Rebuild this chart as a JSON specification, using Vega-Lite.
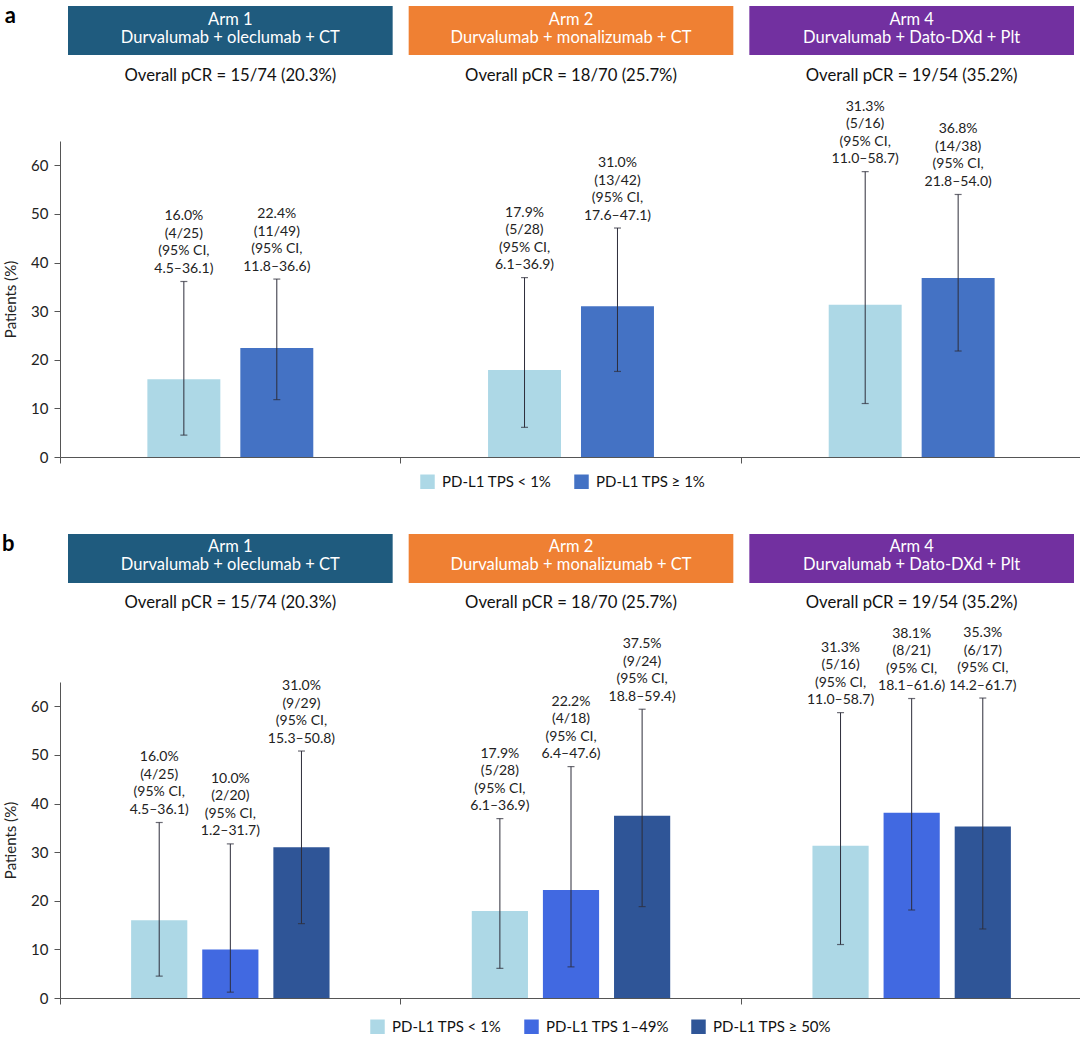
{
  "$schema": "https://vega.github.io/schema/vega-lite/v6.json",
  "padding": {"left": 2, "top": 5, "right": 0, "bottom": 0},
  "bounds": "flush",
  "spacing": 77,
  "config": {
    "font": "Lato",
    "view": {"stroke": null},
    "axis": {"labelFont": "Lato", "titleFont": "Lato"},
    "legend": {"labelFont": "Lato"}
  },
  "resolve": {"scale": {"x": "independent", "y": "independent", "color": "independent", "xOffset": "independent"}},
  "vconcat": [
    {
      "width": 1022,
      "height": 58,
      "title": {"text": "a", "orient": "left", "angle": 0, "anchor": "end", "align": "right", "baseline": "top", "offset": 33, "fontSize": 22, "fontWeight": "bold", "color": "#000"},
      "data": {"values": [
        {"arm": "Arm 1", "regimen": "Durvalumab + oleclumab + CT"},
        {"arm": "Arm 2", "regimen": "Durvalumab + monalizumab + CT"},
        {"arm": "Arm 4", "regimen": "Durvalumab + Dato-DXd + Plt"}
      ]},
      "layer": [
        {
          "mark": {"type": "rect"},
          "encoding": {
            "x": {"field": "arm", "type": "nominal", "sort": null, "scale": {"paddingInner": 0.047, "paddingOuter": 0.0235}, "axis": null},
            "y": {"datum": "box", "type": "nominal", "scale": {"paddingInner": 0, "paddingOuter": 0.0918, "align": 0}, "axis": null},
            "color": {"field": "arm", "type": "nominal", "scale": {"domain": ["Arm 1", "Arm 2", "Arm 4"], "range": ["#1F5B7E", "#EF8033", "#7230A0"]}, "legend": null}
          }
        },
        {
          "mark": {"type": "text", "color": "#ffffff", "fontSize": 16.5, "baseline": "middle", "dy": -11},
          "encoding": {
            "x": {"field": "arm", "type": "nominal", "sort": null, "axis": null},
            "y": {"datum": "box", "type": "nominal", "axis": null},
            "text": {"field": "arm"}
          }
        },
        {
          "mark": {"type": "text", "color": "#ffffff", "fontSize": 16.5, "baseline": "middle", "dy": 7},
          "encoding": {
            "x": {"field": "arm", "type": "nominal", "sort": null, "axis": null},
            "y": {"datum": "box", "type": "nominal", "axis": null},
            "text": {"field": "regimen"}
          }
        }
      ]
    },
    {
      "width": 1022,
      "height": 316,
      "data": {"values": [
        {"pcr": "Overall pCR = 15/74 (20.3%)", "grp": "PD-L1 TPS < 1%", "pct": 16.0, "lo": 4.5, "hi": 36.1, "lbl": "16.0%\n(4/25)\n(95% CI,\n4.5–36.1)"},
        {"pcr": "Overall pCR = 15/74 (20.3%)", "grp": "PD-L1 TPS ≥ 1%", "pct": 22.4, "lo": 11.8, "hi": 36.6, "lbl": "22.4%\n(11/49)\n(95% CI,\n11.8–36.6)"},
        {"pcr": "Overall pCR = 18/70 (25.7%)", "grp": "PD-L1 TPS < 1%", "pct": 17.9, "lo": 6.1, "hi": 36.9, "lbl": "17.9%\n(5/28)\n(95% CI,\n6.1–36.9)"},
        {"pcr": "Overall pCR = 18/70 (25.7%)", "grp": "PD-L1 TPS ≥ 1%", "pct": 31.0, "lo": 17.6, "hi": 47.1, "lbl": "31.0%\n(13/42)\n(95% CI,\n17.6–47.1)"},
        {"pcr": "Overall pCR = 19/54 (35.2%)", "grp": "PD-L1 TPS < 1%", "pct": 31.3, "lo": 11.0, "hi": 58.7, "lbl": "31.3%\n(5/16)\n(95% CI,\n11.0–58.7)"},
        {"pcr": "Overall pCR = 19/54 (35.2%)", "grp": "PD-L1 TPS ≥ 1%", "pct": 36.8, "lo": 21.8, "hi": 54.0, "lbl": "36.8%\n(14/38)\n(95% CI,\n21.8–54.0)"}
      ]},
      "encoding": {
        "xOffset": {"field": "grp", "type": "nominal", "sort": null, "scale": {"paddingInner": 0.215, "paddingOuter": 0.94}}
      },
      "layer": [
        {
          "mark": {"type": "bar"},
          "encoding": {
            "x": {"field": "pcr", "type": "nominal", "sort": null, "scale": {"paddingInner": 0, "paddingOuter": 0},
                  "axis": {"orient": "bottom", "title": null, "labels": false, "tickSize": 6, "bandPosition": 0, "domainColor": "#555", "tickColor": "#555"}},
            "y": {"field": "pct", "type": "quantitative", "title": "Patients (%)", "scale": {"domain": [0, 65], "nice": false},
                  "axis": {"values": [0, 10, 20, 30, 40, 50, 60], "grid": false, "tickSize": 6, "labelFontSize": 15, "labelPadding": 6, "labelColor": "#222", "titleFontSize": 15, "titleFontWeight": "normal", "titleColor": "#222", "titlePadding": 12, "domainColor": "#555", "tickColor": "#555"}},
            "color": {"field": "grp", "type": "nominal", "sort": null,
                      "scale": {"domain": ["PD-L1 TPS < 1%", "PD-L1 TPS ≥ 1%"], "range": ["#ADD8E6", "#4472C4"]},
                      "legend": {"orient": "none", "legendX": 360, "legendY": 333, "direction": "horizontal", "title": null, "symbolType": "square", "symbolSize": 210, "symbolStrokeWidth": 0, "labelFontSize": 15, "labelColor": "#111", "labelOffset": 7, "columnPadding": 22, "labelLimit": 300}}
          }
        },
        {
          "mark": {"type": "rule", "color": "#2d2d3a", "strokeWidth": 1},
          "encoding": {
            "x": {"field": "pcr", "type": "nominal", "sort": null, "axis": null},
            "y": {"field": "lo", "type": "quantitative", "title": "Patients (%)", "scale": {"domain": [0, 65], "nice": false}},
            "y2": {"field": "hi"}
          }
        },
        {
          "mark": {"type": "tick", "color": "#2d2d3a", "size": 7, "thickness": 1.2},
          "encoding": {
            "x": {"field": "pcr", "type": "nominal", "sort": null, "axis": null},
            "y": {"field": "lo", "type": "quantitative", "title": "Patients (%)", "scale": {"domain": [0, 65], "nice": false}}
          }
        },
        {
          "mark": {"type": "tick", "color": "#2d2d3a", "size": 7, "thickness": 1.2},
          "encoding": {
            "x": {"field": "pcr", "type": "nominal", "sort": null, "axis": null},
            "y": {"field": "hi", "type": "quantitative", "title": "Patients (%)", "scale": {"domain": [0, 65], "nice": false}}
          }
        },
        {
          "mark": {"type": "text", "baseline": "middle", "dy": -65, "lineBreak": "\n", "fontSize": 14, "lineHeight": 17.5, "color": "#222"},
          "encoding": {
            "x": {"field": "pcr", "type": "nominal", "sort": null,
                  "axis": {"orient": "top", "title": null, "domain": false, "ticks": false, "tickSize": 0, "labelPadding": 57, "labelFontSize": 16.7, "labelColor": "#111", "labelAngle": 0, "labelLimit": 400}},
            "y": {"field": "hi", "type": "quantitative", "title": "Patients (%)", "scale": {"domain": [0, 65], "nice": false}},
            "text": {"field": "lbl"}
          }
        }
      ],
      "resolve": {"axis": {"x": "independent"}}
    },
    {
      "width": 1022,
      "height": 71,
      "title": {"text": "b", "orient": "left", "angle": 0, "anchor": "end", "align": "right", "baseline": "top", "offset": 33, "fontSize": 22, "fontWeight": "bold", "color": "#000"},
      "data": {"values": [
        {"arm": "Arm 1", "regimen": "Durvalumab + oleclumab + CT"},
        {"arm": "Arm 2", "regimen": "Durvalumab + monalizumab + CT"},
        {"arm": "Arm 4", "regimen": "Durvalumab + Dato-DXd + Plt"}
      ]},
      "layer": [
        {
          "mark": {"type": "rect"},
          "encoding": {
            "x": {"field": "arm", "type": "nominal", "sort": null, "scale": {"paddingInner": 0.047, "paddingOuter": 0.0235}, "axis": null},
            "y": {"datum": "box", "type": "nominal", "scale": {"paddingInner": 0, "paddingOuter": 0.2245, "align": 0}, "axis": null},
            "color": {"field": "arm", "type": "nominal", "scale": {"domain": ["Arm 1", "Arm 2", "Arm 4"], "range": ["#1F5B7E", "#EF8033", "#7230A0"]}, "legend": null}
          }
        },
        {
          "mark": {"type": "text", "color": "#ffffff", "fontSize": 16.5, "baseline": "middle", "dy": -11},
          "encoding": {
            "x": {"field": "arm", "type": "nominal", "sort": null, "axis": null},
            "y": {"datum": "box", "type": "nominal", "axis": null},
            "text": {"field": "arm"}
          }
        },
        {
          "mark": {"type": "text", "color": "#ffffff", "fontSize": 16.5, "baseline": "middle", "dy": 7},
          "encoding": {
            "x": {"field": "arm", "type": "nominal", "sort": null, "axis": null},
            "y": {"datum": "box", "type": "nominal", "axis": null},
            "text": {"field": "regimen"}
          }
        }
      ]
    },
    {
      "width": 1022,
      "height": 316,
      "data": {"values": [
        {"pcr": "Overall pCR = 15/74 (20.3%)", "grp": "PD-L1 TPS < 1%", "pct": 16.0, "lo": 4.5, "hi": 36.1, "lbl": "16.0%\n(4/25)\n(95% CI,\n4.5–36.1)"},
        {"pcr": "Overall pCR = 15/74 (20.3%)", "grp": "PD-L1 TPS 1–49%", "pct": 10.0, "lo": 1.2, "hi": 31.7, "lbl": "10.0%\n(2/20)\n(95% CI,\n1.2–31.7)"},
        {"pcr": "Overall pCR = 15/74 (20.3%)", "grp": "PD-L1 TPS ≥ 50%", "pct": 31.0, "lo": 15.3, "hi": 50.8, "lbl": "31.0%\n(9/29)\n(95% CI,\n15.3–50.8)"},
        {"pcr": "Overall pCR = 18/70 (25.7%)", "grp": "PD-L1 TPS < 1%", "pct": 17.9, "lo": 6.1, "hi": 36.9, "lbl": "17.9%\n(5/28)\n(95% CI,\n6.1–36.9)"},
        {"pcr": "Overall pCR = 18/70 (25.7%)", "grp": "PD-L1 TPS 1–49%", "pct": 22.2, "lo": 6.4, "hi": 47.6, "lbl": "22.2%\n(4/18)\n(95% CI,\n6.4–47.6)"},
        {"pcr": "Overall pCR = 18/70 (25.7%)", "grp": "PD-L1 TPS ≥ 50%", "pct": 37.5, "lo": 18.8, "hi": 59.4, "lbl": "37.5%\n(9/24)\n(95% CI,\n18.8–59.4)"},
        {"pcr": "Overall pCR = 19/54 (35.2%)", "grp": "PD-L1 TPS < 1%", "pct": 31.3, "lo": 11.0, "hi": 58.7, "lbl": "31.3%\n(5/16)\n(95% CI,\n11.0–58.7)"},
        {"pcr": "Overall pCR = 19/54 (35.2%)", "grp": "PD-L1 TPS 1–49%", "pct": 38.1, "lo": 18.1, "hi": 61.6, "lbl": "38.1%\n(8/21)\n(95% CI,\n18.1–61.6)"},
        {"pcr": "Overall pCR = 19/54 (35.2%)", "grp": "PD-L1 TPS ≥ 50%", "pct": 35.3, "lo": 14.2, "hi": 61.7, "lbl": "35.3%\n(6/17)\n(95% CI,\n14.2–61.7)"}
      ]},
      "encoding": {
        "xOffset": {"field": "grp", "type": "nominal", "sort": null, "scale": {"paddingInner": 0.21, "paddingOuter": 1.085}}
      },
      "layer": [
        {
          "mark": {"type": "bar"},
          "encoding": {
            "x": {"field": "pcr", "type": "nominal", "sort": null, "scale": {"paddingInner": 0, "paddingOuter": 0},
                  "axis": {"orient": "bottom", "title": null, "labels": false, "tickSize": 6, "bandPosition": 0, "domainColor": "#555", "tickColor": "#555"}},
            "y": {"field": "pct", "type": "quantitative", "title": "Patients (%)", "scale": {"domain": [0, 65], "nice": false},
                  "axis": {"values": [0, 10, 20, 30, 40, 50, 60], "grid": false, "tickSize": 6, "labelFontSize": 15, "labelPadding": 6, "labelColor": "#222", "titleFontSize": 15, "titleFontWeight": "normal", "titleColor": "#222", "titlePadding": 12, "domainColor": "#555", "tickColor": "#555"}},
            "color": {"field": "grp", "type": "nominal", "sort": null,
                      "scale": {"domain": ["PD-L1 TPS < 1%", "PD-L1 TPS 1–49%", "PD-L1 TPS ≥ 50%"], "range": ["#ADD8E6", "#4169E1", "#2F5597"]},
                      "legend": {"orient": "none", "legendX": 310, "legendY": 337, "direction": "horizontal", "title": null, "symbolType": "square", "symbolSize": 210, "symbolStrokeWidth": 0, "labelFontSize": 15, "labelColor": "#111", "labelOffset": 7, "columnPadding": 22, "labelLimit": 300}}
          }
        },
        {
          "mark": {"type": "rule", "color": "#2d2d3a", "strokeWidth": 1},
          "encoding": {
            "x": {"field": "pcr", "type": "nominal", "sort": null, "axis": null},
            "y": {"field": "lo", "type": "quantitative", "title": "Patients (%)", "scale": {"domain": [0, 65], "nice": false}},
            "y2": {"field": "hi"}
          }
        },
        {
          "mark": {"type": "tick", "color": "#2d2d3a", "size": 7, "thickness": 1.2},
          "encoding": {
            "x": {"field": "pcr", "type": "nominal", "sort": null, "axis": null},
            "y": {"field": "lo", "type": "quantitative", "title": "Patients (%)", "scale": {"domain": [0, 65], "nice": false}}
          }
        },
        {
          "mark": {"type": "tick", "color": "#2d2d3a", "size": 7, "thickness": 1.2},
          "encoding": {
            "x": {"field": "pcr", "type": "nominal", "sort": null, "axis": null},
            "y": {"field": "hi", "type": "quantitative", "title": "Patients (%)", "scale": {"domain": [0, 65], "nice": false}}
          }
        },
        {
          "mark": {"type": "text", "baseline": "middle", "dy": -65, "lineBreak": "\n", "fontSize": 14, "lineHeight": 17.5, "color": "#222"},
          "encoding": {
            "x": {"field": "pcr", "type": "nominal", "sort": null,
                  "axis": {"orient": "top", "title": null, "domain": false, "ticks": false, "tickSize": 0, "labelPadding": 71, "labelFontSize": 16.7, "labelColor": "#111", "labelAngle": 0, "labelLimit": 400}},
            "y": {"field": "hi", "type": "quantitative", "title": "Patients (%)", "scale": {"domain": [0, 65], "nice": false}},
            "text": {"field": "lbl"}
          }
        }
      ],
      "resolve": {"axis": {"x": "independent"}}
    }
  ]
}
